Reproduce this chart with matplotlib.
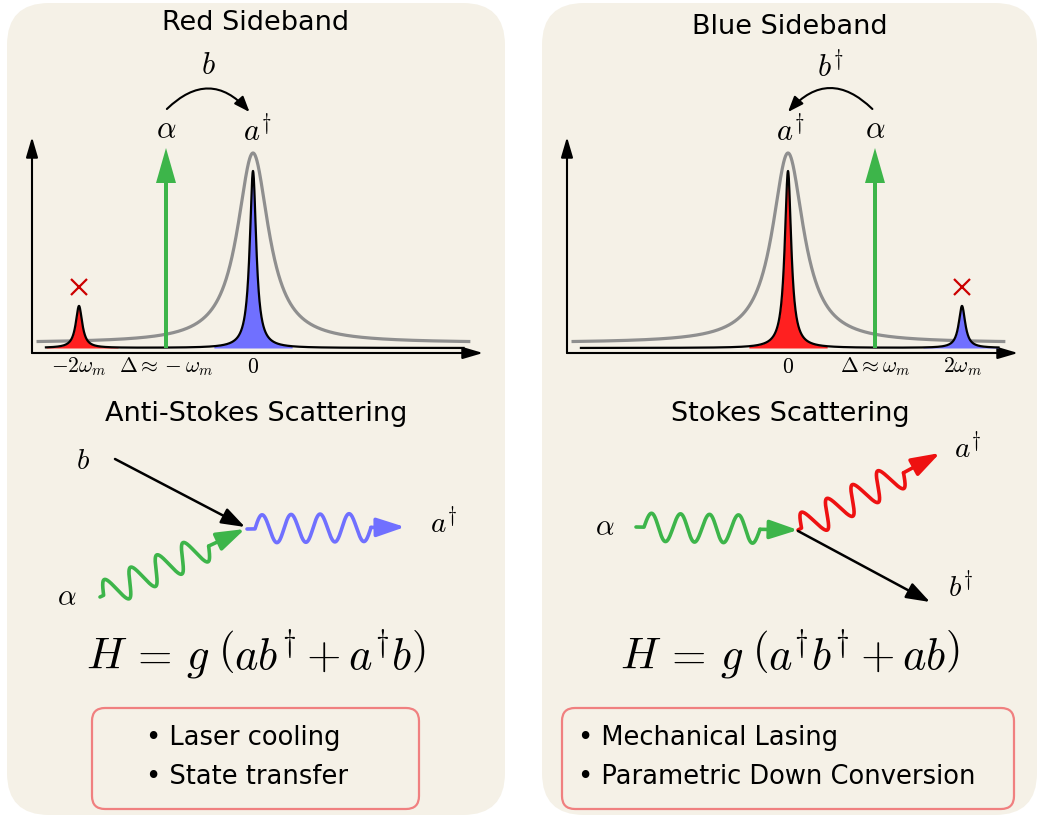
import numpy as np
import matplotlib
matplotlib.use('Agg')
import matplotlib.pyplot as plt
from matplotlib.patches import FancyBboxPatch, FancyArrowPatch

plt.rcParams['mathtext.fontset'] = 'cm'

W, H = 1038, 818
PX = 0.72  # points per pixel at dpi 100

panel_bg = '#f5f1e7'
green = '#3db54a'
blue_fill = '#7070ff'
red_fill = '#ff2020'
grey = '#8f8f8f'
box_edge = '#f08080'
cross_red = '#cc0000'

# panel text
titles = ['Red Sideband', 'Blue Sideband']
title_y = [23, 27]
subtitles = ['Anti-Stokes Scattering', 'Stokes Scattering']
equations = [r'$H\,=\,g\;\left(ab^{\dag}+a^{\dag}b\right)$',
             r'$H\,=\,g\;\left(a^{\dag}b^{\dag}+ab\right)$']
bullets = [['• Laser cooling', '• State transfer'],
           ['• Mechanical Lasing', '• Parametric Down Conversion']]

# spectra (detuning in units of omega_m, heights in arbitrary units)
cavity_height = 0.95
cavity_width = 0.22
cavity_offset = 0.025
sideband_width = 0.045
pump_detuning = [-1, 1]
strong_height = 0.885
weak_detuning = [-2, 2]
weak_height = 0.21
strong_color = [blue_fill, red_fill]
weak_color = [red_fill, blue_fill]
pump_height = 1.0
tick_pos = [[-2, -1, 0], [0, 1, 2]]
tick_labels = [[r'$-2\omega_m$', r'$\Delta \approx -\omega_m$', r'$0$'],
               [r'$0$', r'$\Delta \approx \omega_m$', r'$2\omega_m$']]
top_labels = [[(-1, r'$\alpha$'), (0.05, r'$a^{\dag}$')],
              [(0.03, r'$a^{\dag}$'), (1, r'$\alpha$')]]
hop_label = [r'$b$', r'$b^{\dag}$']
hop_from = [-0.99, 0.97]
hop_to = [-0.04, 0.0]

fig = plt.figure(figsize=(W / 100, H / 100), dpi=100)

bg = fig.add_axes([0, 0, 1, 1], zorder=0)
bg.set_xlim(0, W)
bg.set_ylim(H, 0)
bg.axis('off')
for x0, x1 in [(7, 505), (542, 1037)]:
    bg.add_patch(FancyBboxPatch((x0, 3), x1 - x0, 812,
                                boxstyle='round,pad=0,rounding_size=42',
                                fc=panel_bg, ec='none'))

ov = fig.add_axes([0, 0, 1, 1], zorder=3)
ov.set_xlim(0, W)
ov.set_ylim(H, 0)
ov.axis('off')
ov.patch.set_alpha(0)


def lor(x, c, g):
    return g ** 2 / ((x - c) ** 2 + g ** 2)


x_black = np.linspace(-2.38, 2.42, 3000)
x_grey = np.linspace(-2.47, 2.48, 2000)

for k in range(2):
    shift = 535 * k
    # spectrum axes: origin pixel (32, 353), end (483, 137)
    sp = fig.add_axes([(32 + shift) / W, (H - 353) / H, 451 / W, 216 / H], zorder=2)
    sp.set_xlim((32 - 253) / 87, (483 - 253) / 87)
    sp.set_ylim(-5 / 200, 211 / 200)
    sp.axis('off')
    sp.patch.set_alpha(0)

    # axes arrows
    for end in [(0, 1), (1, 0)]:
        sp.annotate('', xy=end, xytext=(0, 0), xycoords='axes fraction',
                    arrowprops=dict(arrowstyle='-|>,head_length=17,head_width=5',
                                    mutation_scale=PX, lw=1.5, color='black',
                                    shrinkA=0, shrinkB=0))

    sp.plot(x_grey, cavity_offset + cavity_height * lor(x_grey, 0, cavity_width),
            color=grey, lw=2.3, zorder=2, clip_on=False)

    y_strong = strong_height * lor(x_black, 0, sideband_width)
    y_weak = weak_height * lor(x_black, weak_detuning[k], sideband_width)
    m_strong = np.abs(x_black) < 0.45
    m_weak = np.abs(x_black - weak_detuning[k]) < 0.45
    sp.fill_between(x_black[m_strong], 0, y_strong[m_strong], color=strong_color[k],
                    lw=0, zorder=3)
    sp.fill_between(x_black[m_weak], 0, y_weak[m_weak], color=weak_color[k],
                    lw=0, zorder=3)
    sp.plot(x_black, y_strong + y_weak, color='black', lw=1.6, zorder=4, clip_on=False)

    sp.plot(weak_detuning[k], weak_height + 0.095, marker='x', ms=11, mew=1.6,
            color=cross_red, clip_on=False)

    sp.annotate('', xy=(pump_detuning[k], pump_height), xytext=(pump_detuning[k], 0),
                arrowprops=dict(arrowstyle='simple,head_length=35,head_width=20,tail_width=4',
                                mutation_scale=PX, color=green, lw=0,
                                shrinkA=0, shrinkB=0), zorder=5)

    for pos, lab in zip(tick_pos[k], tick_labels[k]):
        sp.text(pos, -0.095, lab, ha='center', va='center', fontsize=15.5)

    for pos, lab in top_labels[k]:
        sp.text(pos, 1.09, lab, ha='center', va='center', fontsize=22, clip_on=False)

    sp.text((hop_from[k] + hop_to[k]) / 2, 1.41, hop_label[k], ha='center', va='center',
            fontsize=22)
    rad = -0.52 if k == 0 else 0.52
    sp.add_patch(FancyArrowPatch((hop_from[k], 1.195), (hop_to[k], 1.18),
                                 connectionstyle=f'arc3,rad={rad}',
                                 arrowstyle='-|>,head_length=13,head_width=5',
                                 mutation_scale=PX, lw=1.5, color='black',
                                 shrinkA=0, shrinkB=0, clip_on=False))

    cx = 256 + 534 * k
    ov.text(cx, title_y[k], titles[k], ha='center', va='center', fontsize=19.5)
    ov.text(cx, 414, subtitles[k], ha='center', va='center', fontsize=19.5)
    ov.text(cx, 655, equations[k], ha='center', va='center', fontsize=32)


def wave(ax, p0, p1, color, n_per, lead=0.0, wl=29, amp=14):
    p0 = np.array(p0, float)
    p1 = np.array(p1, float)
    d = p1 - p0
    u = d / np.hypot(*d)
    nrm = np.array([u[1], -u[0]])
    s = np.linspace(0, n_per * wl, 400)
    off = amp * np.sin(2 * np.pi * s / wl)
    pts = p0 + np.outer(lead + s, u) + np.outer(off, nrm)
    if lead > 0:
        pts = np.vstack([p0, pts])
    ax.plot(pts[:, 0], pts[:, 1], color=color, lw=2.6, solid_capstyle='round')
    start = p0 + u * (lead + n_per * wl)
    ax.annotate('', xy=p1, xytext=start,
                arrowprops=dict(arrowstyle='-|>,head_length=24,head_width=8',
                                mutation_scale=PX, color=color, lw=2.6,
                                shrinkA=0, shrinkB=0))


def line_arrow(ax, p0, p1):
    ax.annotate('', xy=p1, xytext=p0,
                arrowprops=dict(arrowstyle='-|>,head_length=20,head_width=7',
                                mutation_scale=PX, color='black', lw=1.8,
                                shrinkA=0, shrinkB=0))


# anti-Stokes diagram
line_arrow(ov, (115, 459), (245, 527))
wave(ov, (100, 597), (245, 529), green, 4.0, lead=4)
wave(ov, (247, 529), (405, 527), blue_fill, 4.0, lead=8)
ov.text(83, 461, r'$b$', ha='center', va='center', fontsize=21)
ov.text(67, 597, r'$\alpha$', ha='center', va='center', fontsize=21)
ov.text(444, 523, r'$a^{\dag}$', ha='center', va='center', fontsize=21)

# Stokes diagram
wave(ov, (636, 527), (798, 530), green, 4.0, lead=8)
wave(ov, (798, 530), (940, 453), '#ee1111', 4.0, lead=4)
line_arrow(ov, (798, 531), (930, 602))
ov.text(605, 527, r'$\alpha$', ha='center', va='center', fontsize=21)
ov.text(968, 448, r'$a^{\dag}$', ha='center', va='center', fontsize=21)
ov.text(961, 587, r'$b^{\dag}$', ha='center', va='center', fontsize=21)

# application boxes
box_x = [(92, 419), (562, 1014)]
text_x = [146, 578]
for k in range(2):
    x0, x1 = box_x[k]
    ov.add_patch(FancyBboxPatch((x0, 708), x1 - x0, 101,
                                boxstyle='round,pad=0,rounding_size=13',
                                fc='none', ec=box_edge, lw=1.6))
    for j, t in enumerate(bullets[k]):
        ov.text(text_x[k], 738 + 39 * j, t, ha='left', va='center', fontsize=18.5)

fig.savefig('out.png', dpi=100)
